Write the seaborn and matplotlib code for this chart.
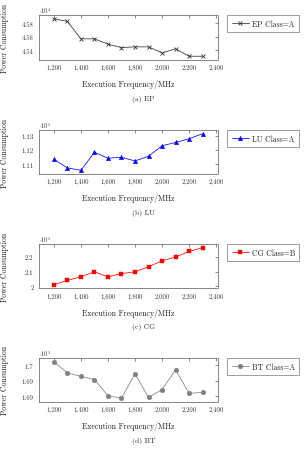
import matplotlib
matplotlib.use("Agg")
import matplotlib.pyplot as plt
import seaborn as sns
import numpy as np

# ---------------- data ----------------
freq = [1200, 1300, 1400, 1500, 1600, 1700, 1800, 1900, 2000, 2100, 2200, 2300]

ep_vals = [4.587, 4.583, 4.557, 4.557, 4.549, 4.544, 4.545, 4.545, 4.536, 4.542, 4.531, 4.531]
lu_vals = [1.1134, 1.1074, 1.1057, 1.1184, 1.1142, 1.1149, 1.1123, 1.1156, 1.1230, 1.1253, 1.1279, 1.1315]
cg_vals = [2.012, 2.040, 2.065, 2.098, 2.064, 2.086, 2.098, 2.132, 2.172, 2.197, 2.235, 2.260]
bt_vals = [1.7011, 1.6975, 1.6964, 1.6954, 1.6902, 1.6895, 1.6972, 1.6897, 1.6922, 1.6985, 1.6910, 1.6913]

x_ticks = [1200, 1400, 1600, 1800, 2000, 2200, 2400]
x_ticklabels = ["1,200", "1,400", "1,600", "1,800", "2,000", "2,200", "2,400"]

ep_yticks = [4.54, 4.56, 4.58]
ep_yticklabels = ["4.54", "4.56", "4.58"]
lu_yticks = [1.11, 1.12, 1.13]
lu_yticklabels = ["1.11", "1.12", "1.13"]
cg_yticks = [2.0, 2.1, 2.2]
cg_yticklabels = ["2", "2.1", "2.2"]
bt_yticks = [1.690, 1.695, 1.700]
bt_yticklabels = ["1.69", "1.69", "1.7"]

legend_labels = ["EP Class=A", "LU Class=A", "CG Class=B", "BT Class=A"]
multipliers = [r"$\cdot 10^{4}$", r"$\cdot 10^{5}$", r"$\cdot 10^{5}$", r"$\cdot 10^{5}$"]
captions = ["(a) EP", "(b) LU", "(c) CG", "(d) BT"]
x_label = "Execution Frequency/MHz"
y_label = "Power Consumption"

# ---------------- style ----------------
sns.set_style("white")
plt.rcParams["font.family"] = ["serif"]
plt.rcParams["font.serif"] = ["cmr10", "DejaVu Serif"]
plt.rcParams["mathtext.fontset"] = "cm"
plt.rcParams["axes.unicode_minus"] = False

W, H = 304, 452
fig = plt.figure(figsize=(W / 100, H / 100), dpi=100)

panels = [
    dict(vals=ep_vals, yt=ep_yticks, ytl=ep_yticklabels, color="#333333", mk="x", ms=2.6, top=16, bot=61),
    dict(vals=lu_vals, yt=lu_yticks, ytl=lu_yticklabels, color="#0000ff", mk="^", ms=3.2, top=131, bot=175),
    dict(vals=cg_vals, yt=cg_yticks, ytl=cg_yticklabels, color="#ff0000", mk="s", ms=3.2, top=245, bot=289.3),
    dict(vals=bt_vals, yt=bt_yticks, ytl=bt_yticklabels, color="#808080", mk="o", ms=3.4, top=359, bot=402.7),
]

left_px, right_px = 39, 217.5
tick_fs = 4.8
lab_fs = 5.6

for i, p in enumerate(panels):
    ax = fig.add_axes([left_px / W, 1 - p["bot"] / H, (right_px - left_px) / W, (p["bot"] - p["top"]) / H])
    sns.lineplot(x=freq, y=p["vals"], ax=ax, color=p["color"], marker=p["mk"],
                 markersize=p["ms"], linewidth=0.55, label=legend_labels[i],
                 markeredgecolor=p["color"], markerfacecolor=p["color"],
                 markeredgewidth=0.6 if p["mk"] == "x" else 0.3)
    vmin, vmax = min(p["vals"]), max(p["vals"])
    pad = (vmax - vmin) * 0.1
    ax.set_ylim(vmin - pad, vmax + pad)
    ax.set_xlim(1090, 2410)
    ax.set_xticks(x_ticks)
    ax.set_xticklabels(x_ticklabels, fontsize=tick_fs)
    ax.set_yticks(p["yt"])
    ax.set_yticklabels(p["ytl"], fontsize=tick_fs)
    ax.tick_params(direction="in", length=2.0, width=0.4, top=True, right=True,
                   labelsize=tick_fs, pad=3.0, colors="#333333")
    ax.tick_params(axis="y", pad=4.0)
    for s in ax.spines.values():
        s.set_linewidth(0.5)
        s.set_color("#555555")
        s.set_visible(True)
    ax.set_xlabel(x_label, fontsize=lab_fs, labelpad=6.5, color="#222222")
    ax.set_ylabel(y_label, fontsize=lab_fs, color="#222222")
    ax.yaxis.set_label_coords(-29.5 / (right_px - left_px), 0.5)
    ax.text(0.0, 1.01, multipliers[i], transform=ax.transAxes, fontsize=4.6,
            ha="left", va="bottom", color="#333333")
    leg = ax.legend(loc="upper left", bbox_to_anchor=(1.055, 1.0), fontsize=lab_fs,
                    frameon=True, fancybox=False, edgecolor="#555555",
                    handlelength=2.2, handletextpad=0.4, borderpad=0.55,
                    borderaxespad=0.0, markerscale=1.0)
    leg.get_frame().set_linewidth(0.5)
    fig.text((left_px + right_px) / 2 / W + 0.05, 1 - (p["bot"] + 38.5) / H, captions[i],
             fontsize=5.4, ha="center", va="center", color="#222222")

fig.savefig("out.png", dpi=100)
